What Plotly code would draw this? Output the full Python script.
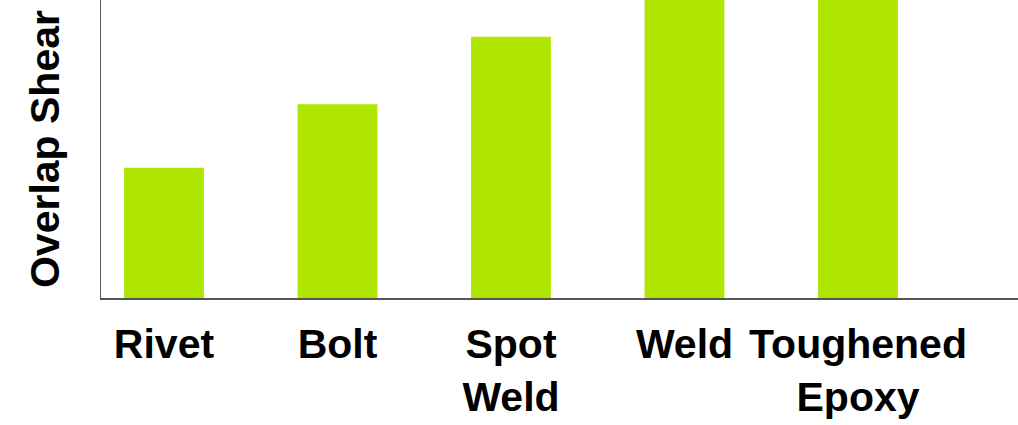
import plotly.graph_objects as go

categories = ["Rivet", "Bolt", "Spot<br>Weld", "Weld", "Toughened<br>Epoxy<br>Adhesive"]
shear_strength = [13.1, 19.5, 26.3, 33.0, 36.0]
y_title = "Overlap Shear"

BAR_COLOR = "#AEE600"
FONT = "Liberation Sans, Arial, sans-serif"

fig = go.Figure(
    go.Bar(
        x=categories,
        y=shear_strength,
        marker=dict(color=BAR_COLOR, line=dict(width=0)),
        width=0.46,
        hoverinfo="skip",
    )
)

fig.update_layout(
    width=1018,
    height=425,
    margin=dict(l=101, r=0, t=0, b=127, autoexpand=False),
    paper_bgcolor="white",
    plot_bgcolor="white",
    showlegend=False,
    font=dict(family=FONT, color="black"),
    annotations=[
        dict(
            text="<b>" + y_title + "</b>",
            xref="paper",
            yref="paper",
            x=-0.061,
            y=0.5,
            xanchor="center",
            yanchor="middle",
            textangle=-90,
            showarrow=False,
            font=dict(family=FONT, size=41, color="black"),
        )
    ],
)

fig.update_xaxes(
    type="category",
    range=[-0.363, 4.922],
    automargin=False,
    showline=True,
    linecolor="#555555",
    linewidth=1.5,
    showgrid=False,
    zeroline=False,
    ticks="",
    tickfont=dict(family=FONT, size=41, color="black", weight="bold"),
    ticklabelstandoff=9,
)

fig.update_yaxes(
    range=[0, 30],
    automargin=False,
    showline=True,
    linecolor="#555555",
    linewidth=1.5,
    showgrid=False,
    zeroline=False,
    showticklabels=False,
    ticks="",
)

fig.write_html(
    "out.html",
    config={"displayModeBar": False, "staticPlot": True},
    post_script="document.body.style.margin='0';",
)
